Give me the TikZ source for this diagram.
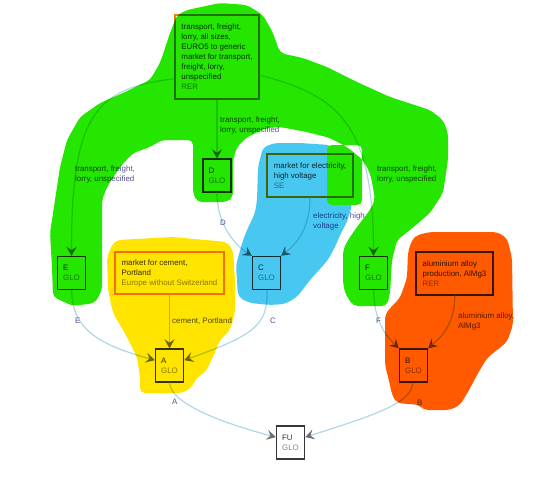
\documentclass[tikz,border=0pt]{standalone}
\usepackage{fontspec}
\setmainfont{Liberation Sans}
\usepackage{tikz}
\usetikzlibrary{arrows.meta}
\usepackage{xcolor}
\definecolor{blobgreen}{RGB}{36,230,0}
\definecolor{blobblue}{RGB}{72,200,240}
\definecolor{blobyellow}{RGB}{255,228,0}
\definecolor{bloborange}{RGB}{255,90,0}
\definecolor{edgeblue}{RGB}{173,216,230}
\definecolor{framegray}{RGB}{55,55,55}
\definecolor{hiorange}{RGB}{245,125,0}
\definecolor{tipgray}{RGB}{110,110,110}
\definecolor{labelnavy}{RGB}{80,80,150}
\definecolor{namegray}{RGB}{50,50,50}
\definecolor{locgray}{RGB}{135,135,135}
\newcommand{\diagfont}{\fontsize{7.9}{10}\selectfont}
\newcommand{\loctext}[1]{{\color{locgray}#1}}

\begin{document}
\begin{tikzpicture}[
        x=1pt, y=-1pt,
        every node/.style={font=\diagfont, text=namegray},
        proc/.style={draw=framegray, line width=1.4pt, fill=white, minimum width=28pt, minimum height=33pt, inner sep=0pt, align=left},
        act/.style={draw=hiorange, line width=1.4pt, fill=white, inner xsep=6pt, inner ysep=0pt, align=left},
        flow/.style={draw=edgeblue, line width=1.2pt, -{Stealth[length=9pt, width=10pt, inset=3.5pt, color=tipgray]}},
        flowlabel/.style={text=labelnavy, anchor=north west, inner sep=0pt, align=left},
        blob/.style={rounded corners=5pt}
    ]
        \useasboundingbox (0,0) rectangle (541,477);
        \node[act, minimum width=84pt, minimum height=84pt] (lorry) at (217,57) {
            transport, freight,\\
            lorry, all sizes,\\
            EURO5 to generic\\
            market for transport,\\
            freight, lorry,\\
            unspecified\\
            \loctext{RER}
        };
        \node[proc] (D) at (217,175.5) {D\\ \loctext{GLO}};
        \node[act, minimum width=86pt, minimum height=43pt] (elec) at (310,175.5) {
            market for electricity,\\
            high voltage\\
            \loctext{SE}
        };
        \node[proc] (E) at (71.5,273) {E\\ \loctext{GLO}};
        \node[act, minimum width=109pt, minimum height=42pt] (cement) at (169.5,273) {
            market for cement,\\
            Portland\\
            \loctext{Europe without Switzerland}
        };
        \node[proc] (C) at (266.5,273) {C\\ \loctext{GLO}};
        \node[proc] (F) at (373.5,273) {F\\ \loctext{GLO}};
        \node[act, draw=framegray, minimum width=77pt, minimum height=43pt] (alloy) at (454.5,273.5) {
            aluminium alloy\\
            production, AlMg3\\
            \loctext{RER}
        };
        \node[proc] (A) at (169.5,365.5) {A\\ \loctext{GLO}};
        \node[proc] (B) at (413.5,365.5) {B\\ \loctext{GLO}};
        \node[proc] (FU) at (290.5,442.5) {FU\\ \loctext{GLO}};

        \draw[flow] (lorry) -- (D);
        \draw[flow] (lorry.207) .. controls (95,88) and (71.5,115) .. (E);
        \draw[flow] (lorry.337) .. controls (335,95) and (373.5,120) .. (F);
        \draw[flow] (D) .. controls (217,225) and (235,245) .. (C.north west);
        \draw[flow] (elec) .. controls (310,230) and (295,245) .. (C.north east);
        \draw[flow] (E) .. controls (72,330) and (100,345) .. (A.160);
        \draw[flow] (cement) -- (A);
        \draw[flow] (C) .. controls (268,325) and (255,335) .. (A.20);
        \draw[flow] (F) .. controls (374,320) and (385,335) .. (B.north west);
        \draw[flow] (alloy) .. controls (455,325) and (440,338) .. (B.north east);
        \draw[flow] (A) .. controls (170,405) and (230,425) .. (FU.160);
        \draw[flow] (B) .. controls (412,403) and (375,415) .. (FU.20);

        \node[flowlabel] (lbd) at (220,117) {transport, freight,\\lorry, unspecified};
        \node[flowlabel] (lbe) at (75,166) {transport, freight,\\lorry, unspecified};
        \node[flowlabel] (lbf) at (377,166) {transport, freight,\\lorry, unspecified};
        \node[flowlabel] (lbelec) at (313,213) {electricity, high\\voltage};
        \node[flowlabel] (lbdc) at (220,220) {D};
        \node[flowlabel] (lbea) at (75,318) {E};
        \node[flowlabel] (lbcement) at (172,318) {cement, Portland};
        \node[flowlabel] (lbca) at (270,318) {C};
        \node[flowlabel] (lbfb) at (376,318) {F};
        \node[flowlabel] (lballoy) at (458,313) {aluminium alloy,\\AlMg3};
        \node[flowlabel] (lba) at (172,399) {A};
        \node[flowlabel] (lbb) at (417,400) {B};

        \begin{scope}[blend mode=multiply]
        \begin{scope}[transparency group]
        \fill[blobblue, blob] (263,147) -- (275,143) -- (300,143) -- (330,145) -- (350,160) -- (352,205) -- (347,222) -- (340,235) -- (336,245) -- (328,260) -- (310,280) -- (297,297) -- (285,304) -- (270,305) -- (250,303) -- (238,297) -- (236,265) -- (243,240) -- (247,230) -- (255,213) -- (257,200) -- (258,167) -- cycle;
        \fill[blobgreen, blob] (53,297) -- (52,267) -- (50,233) -- (55,200) -- (60,167) -- (67,140) -- (80,117) -- (100,103) -- (123,93) -- (150,80) -- (160,63) -- (170,33) -- (177,15) -- (187,10) -- (220,3) -- (247,5) -- (263,15) -- (273,33) -- (280,53) -- (303,58) -- (327,67) -- (357,82) -- (390,97) -- (430,110) -- (443,120) -- (448,133) -- (448,160) -- (443,193) -- (430,213) -- (410,230) -- (397,240) -- (392,260) -- (390,293) -- (387,306) -- (353,306) -- (345,293) -- (343,283) -- (343,250) -- (348,240) -- (357,227) -- (370,210) -- (375,200) -- (373,187) -- (370,173) -- (363,160) -- (347,147) -- (330,138) -- (307,132) -- (280,127) -- (267,128) -- (247,137) -- (237,147) -- (233,160) -- (233,197) -- (227,202) -- (197,202) -- (193,193) -- (193,140) -- (162,140) -- (150,147) -- (133,153) -- (120,167) -- (107,187) -- (102,200) -- (102,223) -- (102,290) -- (95,303) -- (73,306) -- cycle
            (327,145) rectangle (362,205);
        \fill[blobyellow, blob] (107,257) -- (112,245) -- (117,240) -- (173,237) -- (227,242) -- (233,250) -- (235,280) -- (235,313) -- (230,330) -- (220,340) -- (213,357) -- (205,373) -- (197,377) -- (192,387) -- (183,393) -- (140,393) -- (140,377) -- (137,357) -- (127,337) -- (113,313) -- (108,290) -- cycle;
        \fill[bloborange, blob] (412,240) -- (417,235) -- (430,232) -- (497,232) -- (507,238) -- (512,258) -- (513,325) -- (507,342) -- (487,358) -- (477,375) -- (468,392) -- (460,405) -- (450,410) -- (423,410) -- (420,405) -- (397,403) -- (392,395) -- (390,385) -- (385,365) -- (385,315) -- (390,308) -- (400,298) -- (407,278) -- (408,252) -- cycle;
        \end{scope}
        \end{scope}
    \end{tikzpicture}
\end{document}
